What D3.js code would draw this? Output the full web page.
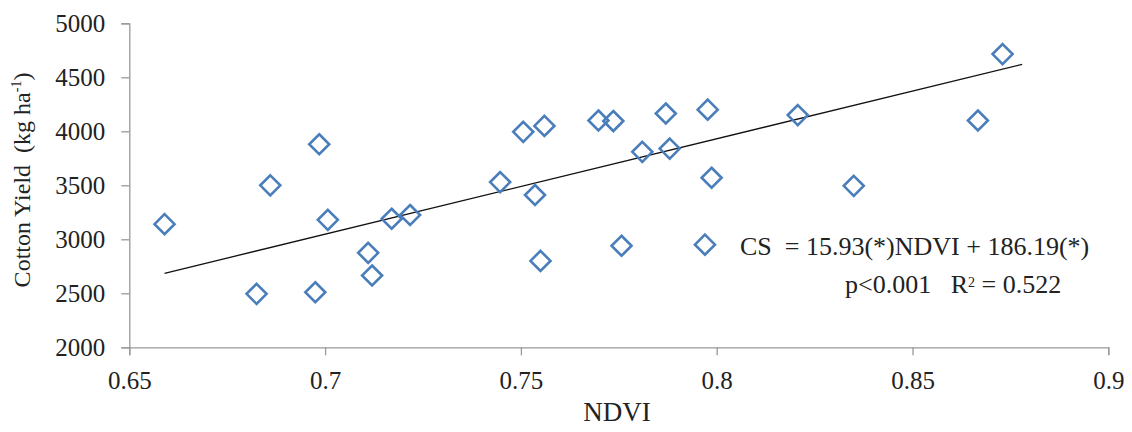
<!DOCTYPE html>
<html>
<head>
<meta charset="utf-8">
<script src="https://cdn.jsdelivr.net/npm/d3@7"></script>
<style>
  body { margin: 0; background: #fff; }
  text { font-family: "Liberation Serif", "Times New Roman", serif; fill: #222; }
</style>
</head>
<body>
<div id="chart"></div>
<script>
// NDVI vs cotton yield
const ndvi = [0.659, 0.6825, 0.686, 0.6985, 0.6975, 0.7007, 0.711, 0.712, 0.717, 0.7217,
  0.7447, 0.7506, 0.756, 0.7536, 0.755, 0.7698, 0.7736, 0.7757, 0.781, 0.787,
  0.788, 0.7977, 0.797, 0.7987, 0.8207, 0.835, 0.8667, 0.873];
const yieldKg = [3140, 2495, 3500, 3880, 2510, 3180, 2875, 2665, 3190, 3225,
  3530, 3995, 4050, 3410, 2800, 4100, 4095, 2940, 3810, 4165,
  3840, 4200, 2950, 3570, 4150, 3495, 4100, 4715];
const trendX = [0.659, 0.878];
const trendY = [2685, 4620];
const xTicks = [0.65, 0.7, 0.75, 0.8, 0.85, 0.9];
const yTicks = [2000, 2500, 3000, 3500, 4000, 4500, 5000];

const svgWidth = 1132, svgHeight = 432;
const margin = { top: 23.3, right: 23.7, bottom: 84.7, left: 129.3 };
const width = svgWidth - margin.left - margin.right;
const height = svgHeight - margin.top - margin.bottom;

const svg = d3.select('#chart')
  .append('svg')
  .attr('width', svgWidth)
  .attr('height', svgHeight)
  .append('g')
  .attr('transform', `translate(${margin.left},${margin.top})`);

const x = d3.scaleLinear().domain([0.65, 0.9]).range([0, width]);
const y = d3.scaleLinear().domain([2000, 5000]).range([height, 0]);

const xAxis = svg.append('g')
  .attr('transform', `translate(0,${height})`)
  .call(d3.axisBottom(x).tickValues(xTicks).tickFormat(d => String(+d.toFixed(2))).tickSize(8).tickSizeOuter(8));
const yAxis = svg.append('g')
  .call(d3.axisLeft(y).tickValues(yTicks).tickFormat(d3.format('d')).tickSize(8).tickSizeOuter(8));

[xAxis, yAxis].forEach(a => {
  a.selectAll('path, line').attr('stroke', '#999').attr('stroke-width', 1.3);
  a.selectAll('text')
    .style('font-family', '"Liberation Serif", serif')
    .style('font-size', '25px')
    .attr('fill', '#222');
});
xAxis.selectAll('text').attr('y', 42).attr('dy', 0);
yAxis.selectAll('text').attr('x', -24);

// trend line
const line = d3.line().x(d => x(d[0])).y(d => y(d[1]));
svg.append('path')
  .datum(d3.zip(trendX, trendY))
  .attr('d', line)
  .attr('fill', 'none')
  .attr('stroke', '#111')
  .attr('stroke-width', 1.3);

// diamond markers
const pts = d3.zip(ndvi, yieldKg);
const r = 10;
svg.selectAll('path.pt')
  .data(pts)
  .enter()
  .append('path')
  .attr('class', 'pt')
  .attr('d', d => {
    const cx = x(d[0]), cy = y(d[1]);
    return `M${cx},${cy - r}L${cx + r},${cy}L${cx},${cy + r}L${cx - r},${cy}Z`;
  })
  .attr('fill', 'none')
  .attr('stroke', '#4a7ebb')
  .attr('stroke-width', 2.6);

// equation
svg.append('text')
  .attr('x', 740 - margin.left)
  .attr('y', 255 - margin.top)
  .style('font-size', '26px')
  .attr('xml:space', 'preserve')
  .text('CS  = 15.93(*)NDVI + 186.19(*)');

const eq2 = svg.append('text')
  .attr('x', 845 - margin.left)
  .attr('y', 293 - margin.top)
  .style('font-size', '26px')
  .attr('xml:space', 'preserve');
eq2.append('tspan').text('p<0.001   R');
eq2.append('tspan').style('font-size', '14px').attr('dy', -6).text('2');
eq2.append('tspan').attr('dy', 6).text(' = 0.522');

// axis titles
svg.append('text')
  .attr('x', 617 - margin.left)
  .attr('y', 421 - margin.top)
  .attr('text-anchor', 'middle')
  .style('font-size', '27px')
  .text('NDVI');

const yt = svg.append('text')
  .attr('transform', 'rotate(-90)')
  .attr('x', -(180 - margin.top))
  .attr('y', 30 - margin.left)
  .attr('text-anchor', 'middle')
  .attr('xml:space', 'preserve')
  .style('font-size', '24px');
yt.append('tspan').text('Cotton Yield  (kg ha');
yt.append('tspan').style('font-size', '14px').attr('dy', -9).text('-1');
yt.append('tspan').attr('dy', 9).text(')');
</script>
</body>
</html>
